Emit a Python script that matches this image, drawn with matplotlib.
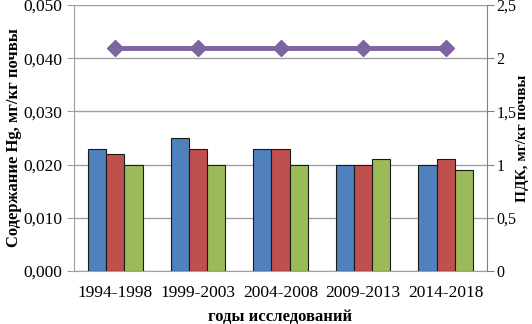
import numpy as np
import matplotlib.pyplot as plt

plt.rcParams['font.family'] = ['Liberation Serif', 'DejaVu Serif']

years = ["1994-1998", "1999-2003", "2004-2008", "2009-2013", "2014-2018"]
hg_1 = [0.023, 0.025, 0.023, 0.020, 0.020]
hg_2 = [0.022, 0.023, 0.023, 0.020, 0.021]
hg_3 = [0.020, 0.020, 0.020, 0.021, 0.019]
pdk = [2.1, 2.1, 2.1, 2.1, 2.1]

fig = plt.figure(figsize=(5.32, 3.24), dpi=100)
ax = fig.add_axes([74 / 532, 53 / 324, 413 / 532, 266 / 324])
ax2 = ax.twinx()

x = np.arange(len(years))
w = 0.22
for off, vals, c in [(-w, hg_1, "#4F81BD"), (0, hg_2, "#C0504D"), (w, hg_3, "#9BBB59")]:
    ax.bar(x + off, vals, w, color=c, edgecolor="#1a1a1a", linewidth=0.8, zorder=3)

ax2.plot(x, pdk, color="#8064A2", linewidth=3.5, marker="D", markersize=8, zorder=4)

ax.set_ylim(0, 0.05)
ax.set_yticks(np.arange(0, 0.0501, 0.01))
ax.set_yticklabels(["0,000", "0,010", "0,020", "0,030", "0,040", "0,050"])
ax2.set_ylim(0, 2.5)
ax2.set_yticks([0, 0.5, 1, 1.5, 2, 2.5])
ax2.set_yticklabels(["0", "0,5", "1", "1,5", "2", "2,5"])
ax.set_xlim(-0.5, len(years) - 0.5)
ax.set_xticks(x)
ax.set_xticklabels(years)

ax.grid(axis="y", color="#a0a0a0", linewidth=1, zorder=0)
ax.set_axisbelow(True)
for a in (ax, ax2):
    for s in a.spines.values():
        s.set_visible(False)
    a.tick_params(labelsize=12.5)
ax.spines["left"].set_visible(True)
ax.spines["left"].set_color("#a0a0a0")
ax2.spines["right"].set_visible(True)
ax2.spines["right"].set_color("#808080")
ax.spines["bottom"].set_visible(True)
ax.spines["bottom"].set_color("#a0a0a0")
ax.tick_params(axis="x", length=0, pad=10)
ax.tick_params(axis="y", length=5, color="#a0a0a0")
ax2.tick_params(axis="y", length=5, color="#808080", pad=2, labelsize=11.5)

ax.set_ylabel("Содержание Hg, мг/кг почвы", fontsize=12, fontweight="bold")
ax2.set_ylabel("ПДК, мг/кг почвы", fontsize=11, fontweight="bold")
ax.set_xlabel("годы исследований", fontsize=12, fontweight="bold")
ax.yaxis.set_label_coords(-52 / 413, 0.5)
ax2.yaxis.set_label_coords(1 + 29 / 413, 0.5)
ax.xaxis.set_label_coords(0.5, -38 / 266)

plt.savefig("out.png", dpi=100)
